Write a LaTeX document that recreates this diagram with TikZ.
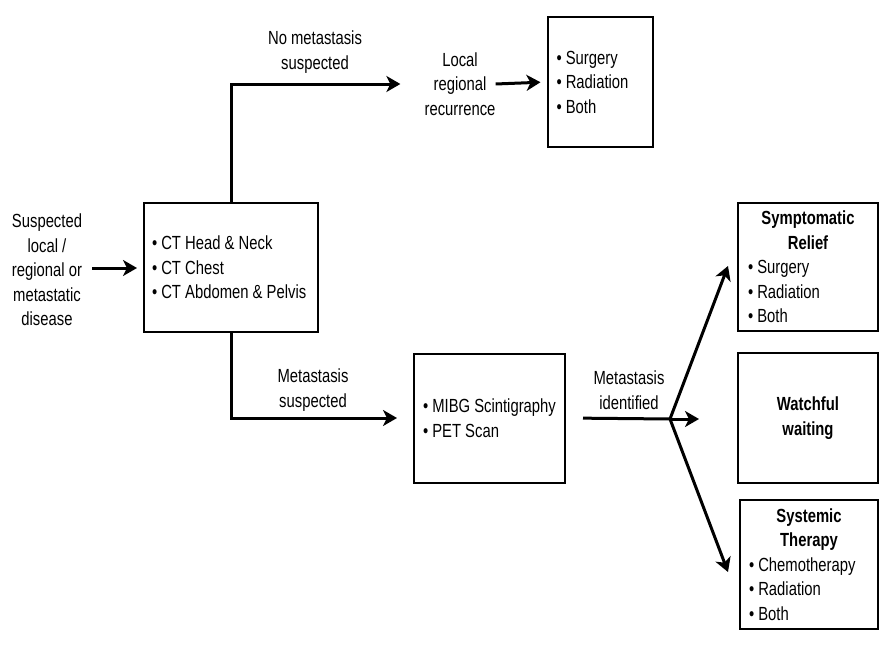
\documentclass[tikz,border=0pt]{standalone}
\usepackage{fontspec}
\setmainfont{Liberation Sans}[FakeStretch=0.78]
\usetikzlibrary{arrows.meta}
\begin{document}
\begin{tikzpicture}[x=1pt,y=-1pt,
  every node/.style={font=\fontsize{19}{24.5}\selectfont, inner sep=0pt},
  lbl/.style={align=center},
  box/.style={draw, line width=2pt, minimum width=#1},
  conn/.style={line width=3pt, -{Stealth[length=14pt,width=16pt,inset=4pt]}},
  plain/.style={line width=3pt}]
\useasboundingbox (0,0) rectangle (892,653);
\fill[white] (0,0) rectangle (892,653);
% text nodes
\node[lbl] (src) at (47,270) {Suspected\\local /\\regional or\\metastatic\\disease};
\node[lbl] (nomet) at (315,52) {No metastasis\\suspected};
\node[lbl] (local) at (460,84) {Local\\regional\\recurrence};
\node[lbl] (metsus) at (313,390) {Metastasis\\suspected};
\node[lbl] (metid) at (629,390) {Metastasis\\identified};
% boxes
\node[box=174pt, minimum height=129pt, text width=158pt, align=flush left] (ct) at (231,267.5)
  {• CT Head \& Neck\\• CT Chest\\• CT Abdomen \& Pelvis};
\node[box=105pt, minimum height=130pt, text width=87pt, align=flush left] (top) at (600,82)
  {• Surgery\\• Radiation\\• Both};
\node[box=151pt, minimum height=129pt, text width=133pt, align=flush left] (mibg) at (489.5,418)
  {• MIBG Scintigraphy\\• PET Scan};
\node[box=140pt, minimum height=128pt, text width=120pt, align=flush left] (sym) at (808,267)
  {{\centering\bfseries Symptomatic\\Relief\par}• Surgery\\• Radiation\\• Both};
\node[box=140pt, minimum height=130pt, align=center, font=\fontsize{19}{24.5}\selectfont\bfseries] (watch) at (808,418)
  {Watchful\\waiting};
\node[box=138pt, minimum height=129pt, text width=120pt, align=flush left] (sys) at (809,564.5)
  {{\centering\bfseries Systemic\\Therapy\par}• Chemotherapy\\• Radiation\\• Both};
% connectors
\coordinate (fork) at (670,419);
\coordinate (t1) at (728,266);
\coordinate (t2) at (728,572);
\draw[conn, shorten <=10pt, shorten >=6pt] (src.east |- 0,268) -- (ct.west |- 0,268);
\draw[conn, shorten >=24pt] (ct.north) |- (local.west);
\draw[conn, shorten >=6pt] (local.east) -- (top.west);
\draw[conn, shorten >=16pt] (ct.south) |- (mibg.west);
\draw[plain, shorten <=17pt] (mibg.east) -- (fork);
\draw[conn, shorten >=38pt] (fork) -- (watch.west |- fork);
\draw[conn] (fork) -- (t1);
\draw[conn] (fork) -- (t2);
\end{tikzpicture}
\end{document}
